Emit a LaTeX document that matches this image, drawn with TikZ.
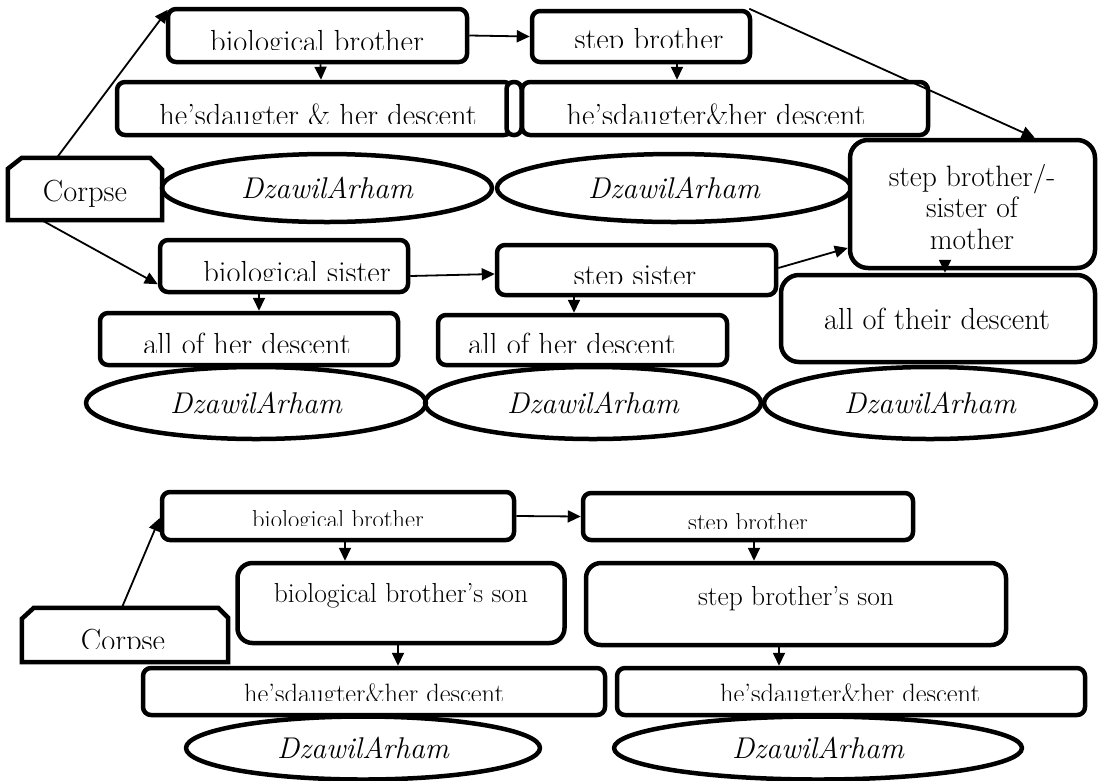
\documentclass[tikz,border=0pt]{standalone}
\usepackage{fontspec}
\usetikzlibrary{arrows.meta,shapes.geometric}

\tikzset{
  boxline/.style={draw, line width=4.5pt, line join=round},
  card/.style={boxline, rounded corners=8pt, inner sep=0pt, fill=white},
  bigcard/.style={card, rounded corners=18pt},
  oval/.style={boxline, ellipse, inner sep=0pt, font=\fontsize{30}{34}\selectfont\itshape},
  plain/.style={inner sep=0pt, minimum width=0pt, minimum height=0pt},
  txtL/.style={plain, font=\fontsize{30.5}{34}\selectfont},
  txtB/.style={plain, font=\fontsize{29.5}{31.5}\selectfont},
  txtM/.style={plain, font=\fontsize{27.5}{31}\selectfont},
  txtH/.style={plain, font=\fontsize{26.5}{30}\selectfont},
  txtS/.style={plain, font=\fontsize{24.5}{28}\selectfont},
  link/.style={line width=1.8pt, -{Triangle[length=13pt,width=12pt]}},
}

% label whose lower part is cut off at height #4 (name, x, style, cut y, text)
\newcommand\cutlabel[5]{%
  \begin{scope}
    \clip (#2-340,#4-70) rectangle (#2+340,#4);
    \node[#3, anchor=base] (#1) at (#2,#4+2) {#5};
  \end{scope}}

\begin{document}
\begin{tikzpicture}[x=1pt,y=-1pt]
\useasboundingbox (0,0) rectangle (1099,780);

% ---------- upper chart ----------
\node[plain, minimum width=154, minimum height=62] (corpse) at (85,189) {};
\draw[boxline, line join=miter]
  ([yshift=-11]corpse.north west) -- ([xshift=14]corpse.north west)
  -- ([xshift=-12]corpse.north east) -- ([yshift=-12]corpse.north east)
  -- (corpse.south east) -- (corpse.south west) -- cycle;
\node[txtL, anchor=base] (corpseT) at (85,201) {Corpse};

\node[card, minimum width=299, minimum height=53] (bb1) at (317.5,35.5) {};
\node[card, minimum width=218, minimum height=51] (sb1) at (641,36.5) {};
\node[card, minimum width=395, minimum height=53] (hd1) at (314.5,108.5) {};
\node[card, minimum width=406, minimum height=53] (hd2) at (725,108.5) {};
\node[card, rounded corners=7pt, minimum width=15, minimum height=53] (pill) at (514,108.5) {};

\node[oval, minimum width=330, minimum height=68] (e1) at (327,188) {DzawilArham};
\node[oval, minimum width=354, minimum height=68] (e2) at (674,188) {DzawilArham};

\node[bigcard, minimum width=245, minimum height=128] (sm) at (972.5,204) {};
\node[txtB, align=center] (smT) at (972,207) {step brother/-\\sister of\\mother};

\node[card, minimum width=248, minimum height=52] (bs1) at (284,266) {};
\node[card, minimum width=279, minimum height=50] (ss1) at (636.5,270) {};
\node[card, minimum width=298, minimum height=52] (ah1) at (249,339) {};
\node[card, minimum width=289, minimum height=50] (ah2) at (582.5,340) {};
\node[bigcard, minimum width=314, minimum height=87] (at) at (938,318.5) {};
\node[txtL, anchor=base] (atT) at (937,329) {all of their descent};

\node[oval, minimum width=340, minimum height=72] (eA) at (256,403) {DzawilArham};
\node[oval, minimum width=336, minimum height=72] (eB) at (593,403) {DzawilArham};
\node[oval, minimum width=332, minimum height=72] (eC) at (930,403) {DzawilArham};

\cutlabel{bb1T}{317}{txtL}{49}{biological brother}
\cutlabel{sb1T}{649}{txtL}{47}{step brother}
\cutlabel{hd1T}{318}{txtL}{123}{he'sdaugter \& her descent}
\cutlabel{hd2T}{716}{txtL}{123}{he'sdaugter\&her descent}
\cutlabel{bs1T}{297}{txtL}{280}{biological sister}
\cutlabel{ss1T}{635}{txtL}{283}{step sister}
\cutlabel{ah1T}{247}{txtL}{352}{all of her descent}
\cutlabel{ah2T}{572}{txtL}{352}{all of her descent}

\draw[link] ([xshift=49]corpse.north west) -- ([xshift=2,yshift=-3]bb1.north west);
\draw[link] ([xshift=34]corpse.south west) -- ([yshift=10]bs1.south west);
\draw[link] (bb1.east) -- (sb1.west);
\draw[link] ([xshift=3]bb1.south) -- ([xshift=6.5]hd1.north);
\draw[link] ([xshift=36]sb1.south) -- ([xshift=-48]hd2.north);
\draw[link] ([xshift=-3]sb1.north east) -- ([xshift=187]sm.north west);
\draw[link] ([yshift=-10]bs1.east) -- ([yshift=-4]ss1.west);
\draw[link] ([yshift=2]ss1.east) -- ([yshift=-44]sm.west);
\draw[link] ([xshift=-25]bs1.south) -- ([xshift=10]ah1.north);
\draw[link] ([xshift=-62.5]ss1.south) -- ([xshift=-8.5]ah2.north);
\draw[link] ([xshift=-27.5,yshift=8]sm.south) -- ([xshift=7]at.north);

% ---------- lower chart ----------
\node[plain, minimum width=206, minimum height=54] (corpse2) at (125,635) {};
\draw[boxline, line join=miter]
  ([yshift=-11]corpse2.north west) -- ([xshift=12]corpse2.north west)
  -- ([xshift=-10]corpse2.north east) -- ([yshift=-10]corpse2.north east)
  -- (corpse2.south east) -- (corpse2.south west) -- cycle;

\node[card, minimum width=352, minimum height=48] (bb2) at (338,516) {};
\node[card, minimum width=330, minimum height=47] (sb2) at (748,516.5) {};
\node[card, rounded corners=15pt, minimum width=327, minimum height=80] (bs2) at (401,603) {};
\node[card, rounded corners=15pt, minimum width=420, minimum height=82] (ss2) at (796,604) {};
\node[card, minimum width=462, minimum height=47] (hd3) at (374,691.5) {};
\node[card, minimum width=468, minimum height=47] (hd4) at (851,691.5) {};

\node[txtM, anchor=base] (bs2T) at (401,602) {biological brother's son};
\node[txtM, anchor=base] (ss2T) at (796,605) {step brother's son};

\node[oval, minimum width=354, minimum height=63] (eD) at (363,748) {DzawilArham};
\node[oval, minimum width=408, minimum height=63] (eE) at (818,748) {DzawilArham};

\cutlabel{corpse2T}{123}{txtL}{648}{Corpse}
\cutlabel{bb2T}{338}{txtS}{525}{biological brother}
\cutlabel{sb2T}{748}{txtS}{528}{step brother}
\cutlabel{hd3T}{374}{txtH}{700}{he'sdaugter\&her descent}
\cutlabel{hd4T}{850}{txtH}{700}{he'sdaugter\&her descent}

\draw[link] ([xshift=100]corpse2.north west) -- ([yshift=-2]bb2.west);
\draw[link] (bb2.east) -- (sb2.west);
\draw[link] ([xshift=7]bb2.south) -- ([xshift=-56]bs2.north);
\draw[link] ([xshift=6]sb2.south) -- ([xshift=-42]ss2.north);
\draw[link] ([xshift=-3]bs2.south) -- ([xshift=24]hd3.north);
\draw[link] ([xshift=-17]ss2.south) -- ([xshift=-72]hd4.north);
\end{tikzpicture}
\end{document}
